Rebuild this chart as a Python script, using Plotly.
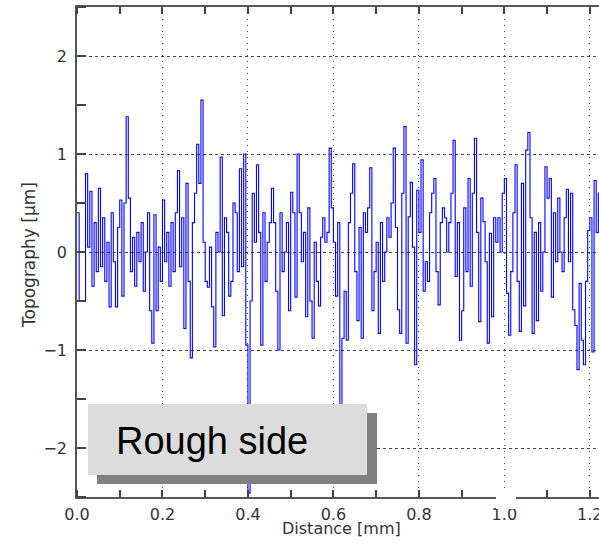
import plotly.graph_objects as go

# ---- data ----
step_mm = 0.005
topography_um = [
    0.4, -0.5, -0.5, -0.5, 0.8, 0.05, 0.62, -0.35, 0.3, -0.2,
    0.65, -0.15, 0.35, -0.3, 0.1, -0.56, 0.4, -0.1, -0.56, 0.25,
    0.53, -0.45, 0.5, 1.38, 0.55, -0.2, 0.15, -0.35, 0.2, -0.1,
    0.3, -0.4, 0.0, 0.4, -0.6, -0.93, 0.38, -0.6, 0.05, -0.3,
    0.53, -0.1, 0.2, -0.35, 0.3, -0.2, 0.4, 0.83, -0.15, 0.35,
    -0.78, 0.7, -0.3, -1.08, 0.3, 0.6, 1.1, 0.7, 1.55, 0.1,
    -0.3, -0.36, 0.05, -0.56, -0.97, 0.2, 0.0, 0.97, -0.65, 0.35,
    0.2, -0.45, -0.3, 0.5, 0.4, -0.2, 0.85, -0.15, 1.0, -0.95,
    -2.46, -0.5, 0.6, 0.1, 0.89, 0.2, -0.95, 0.4, -0.3, 0.1,
    0.3, 0.65, 0.3, -0.4, -1.0, 0.4, -0.2, 0.0, 0.3, -0.6,
    0.61, 0.4, -0.46, 1.0, 0.4, -0.1, 0.2, -0.66, 0.45, -0.5,
    -0.88, 0.1, -0.3, -0.55, 0.15, 0.35, 0.1, 0.2, 1.06, 0.45,
    0.1, -0.45, 0.3, -1.75, -0.88, -0.4, -0.9, 0.3, 0.6, 0.9,
    -0.2, -0.7, 0.25, -0.88, 0.4, 0.2, 0.45, 0.86, -0.6, -0.2,
    0.1, -0.83, 0.3, -0.3, 0.0, 0.35, 0.15, 0.5, 1.06, 0.25,
    -0.59, -0.83, 0.6, 1.28, -0.93, 0.36, 0.71, 0.05, -1.15, 0.63,
    0.2, 0.94, -0.4, -0.1, -0.3, 0.4, 0.6, 0.75, -0.2, -0.54,
    0.3, 0.45, 0.35, 0.0, 0.3, 0.6, 1.14, -0.25, 0.3, -0.9,
    -0.6, 0.45, -0.2, 0.75, -0.35, 0.6, 1.16, 0.2, -0.71, 0.55,
    0.31, -0.1, -0.93, 0.19, -0.66, 0.35, 0.1, 0.35, 0.0, 0.6,
    0.75, -0.42, -0.85, -0.2, 0.4, 0.89, -0.3, -0.81, 0.7, -0.55,
    1.04, 1.22, 0.35, -0.83, 0.2, -0.7, 0.3, -0.4, 0.0, 0.87,
    0.55, 0.75, -0.46, 0.4, -0.1, 0.55, 0.0, -0.2, 0.35, 0.64,
    -0.1, 0.6, -0.59, -0.75, -1.2, -0.32, -0.9, -1.15, -0.3, 0.22,
    0.35, -1.02, 0.73, 0.2, 0.6, 0.4,
]
distance_mm = [round(i * step_mm, 4) for i in range(len(topography_um))]

x_tick_vals = [0.0, 0.2, 0.4, 0.6, 0.8, 1.0, 1.2]
x_tick_text = ["0.0", "0.2", "0.4", "0.6", "0.8", "1.0", "1.2"]
y_tick_vals = [-2, -1, 0, 1, 2]
y_tick_text = ["\u22122", "\u22121", "0", "1", "2"]

legend_label = "Rough side"
x_title = "Distance [mm]"
y_title = "Topography [\u03bcm]"

# ---- layout geometry (pixels) ----
W, H = 599, 546
L, R, T, B = 77, 0, 7, 49
PW, PH = W - L - R, H - T - B


def px(xp):
    return (xp - L) / PW


def py(yp):
    return (H - B - yp) / PH


fig = go.Figure()
fig.add_trace(go.Scatter(
    x=distance_mm, y=topography_um, mode="lines",
    line=dict(color="#0000ff", width=1.1, shape="hv"),
    showlegend=False, hoverinfo="skip",
))

tick_font = dict(family="DejaVu Sans", size=16, color="#333333")

fig.update_layout(
    width=W, height=H,
    margin=dict(l=L, r=R, t=T, b=B, autoexpand=False),
    paper_bgcolor="white", plot_bgcolor="white",
    xaxis=dict(
        range=[0, 1.2215], tickmode="array", tickvals=x_tick_vals, ticktext=x_tick_text,
        ticks="", showline=True, linecolor="#555555", linewidth=1.5, mirror="allticks",
        showgrid=True, gridcolor="#444444", gridwidth=1, griddash="1px,5px",
        zeroline=False, tickfont=tick_font, ticklabelstandoff=2,
        ticklabeloverflow="allow",
        minor=dict(dtick=0.1, tick0=0, ticks="inside", ticklen=7, tickcolor="#444444",
                   tickwidth=1.5, showgrid=False),
    ),
    yaxis=dict(
        range=[-2.5, 2.5], tickmode="array", tickvals=y_tick_vals, ticktext=y_tick_text,
        ticks="", showline=True, linecolor="#555555", linewidth=1.5, mirror=False,
        showgrid=True, gridcolor="#444444", gridwidth=1, griddash="3px,3px",
        zeroline=False, tickfont=tick_font, ticklabelstandoff=5,
        minor=dict(dtick=0.5, tick0=0, ticks="inside", ticklen=9, tickcolor="#444444",
                   tickwidth=1.5, showgrid=False),
    ),
    shapes=[
        # legend shadow
        dict(type="rect", xref="paper", yref="paper", layer="above",
             x0=px(97), x1=px(377), y0=py(484), y1=py(413),
             fillcolor="#808080", line=dict(width=0)),
        # legend box
        dict(type="rect", xref="paper", yref="paper", layer="above",
             x0=px(88), x1=px(367), y0=py(475), y1=py(404),
             fillcolor="#dcdcdc", line=dict(width=0)),
        # white gap near the 1.0 label
        dict(type="rect", xref="paper", yref="paper", layer="above",
             x0=px(496), x1=px(516), y0=py(509), y1=py(489),
             fillcolor="white", line=dict(width=0)),
    ],
    annotations=[
        dict(text=legend_label, xref="paper", yref="paper", x=px(114), y=py(441),
             xanchor="left", yanchor="middle", showarrow=False,
             font=dict(family="Liberation Sans, Arial", size=38, color="black")),
        dict(text=x_title, xref="paper", yref="paper", x=px(341), y=py(528),
             xanchor="center", yanchor="middle", showarrow=False,
             font=dict(family="DejaVu Sans", size=16, color="#333333")),
        dict(text=y_title, xref="paper", yref="paper", x=px(29), y=py(255),
             xanchor="center", yanchor="middle", showarrow=False, textangle=-90,
             font=dict(family="DejaVu Sans", size=17, color="#333333")),
    ],
)

fig.write_html("out.html")
